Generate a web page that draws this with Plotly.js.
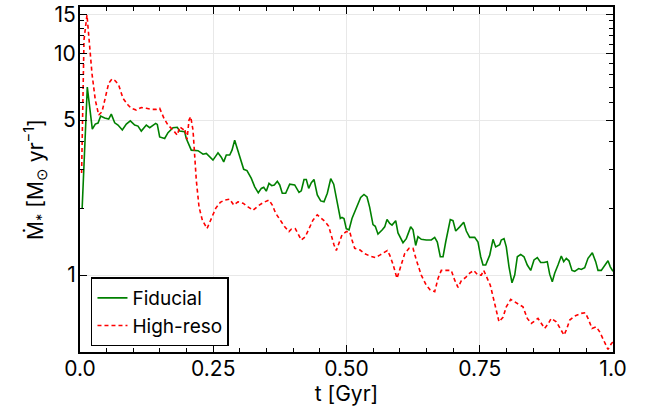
<!DOCTYPE html>
<html>
<head>
<meta charset="utf-8">
<script src="https://cdn.plot.ly/plotly-3.0.1.min.js"></script>
<style>html,body{margin:0;padding:0;background:#fff;}#chart{width:653px;height:408px;}</style>
</head>
<body>
<div id="chart"></div>
<script>
// Fiducial run: time [Gyr] and star formation rate [Msun/yr]
const fidT = [
0.004,0.0137,0.0231,0.0287,0.0338,0.0388,0.0463,0.0538,0.0587,0.0651,
0.0713,0.0794,0.0869,0.0944,0.1026,0.1088,0.115,0.1244,0.1308,0.142,
0.145,0.1495,0.1589,0.1651,0.1745,0.1825,0.1871,0.1964,0.1994,0.2088,
0.2214,0.2308,0.237,0.242,0.2495,0.2589,0.2651,0.2696,0.2745,0.2809,
0.2852,0.2902,0.2964,0.3008,0.3071,0.3133,0.3214,0.3278,0.3345,0.3402,
0.3447,0.3495,0.3546,0.3597,0.3645,0.3702,0.3747,0.3795,0.3859,0.3934,
0.4028,0.4109,0.4152,0.4203,0.4246,0.4291,0.434,0.439,0.4452,0.4516,
0.4578,0.464,0.4704,0.476,0.4827,0.4884,0.4916,0.4953,0.4996,0.5047,
0.5103,0.5184,0.5266,0.5328,0.5385,0.5435,0.5497,0.554,0.5591,0.5672,
0.5717,0.576,0.5811,0.5854,0.5923,0.5966,0.606,0.6122,0.6204,0.6248,
0.6298,0.6341,0.6403,0.6497,0.6591,0.6655,0.6704,0.676,0.6811,0.6861,
0.6904,0.6947,0.6998,0.7049,0.7124,0.7199,0.7248,0.7311,0.7405,0.7467,
0.7518,0.7561,0.7612,0.7687,0.7749,0.7799,0.7874,0.7904,0.7955,0.7998,
0.8049,0.8105,0.8156,0.8205,0.8268,0.833,0.8392,0.8456,0.8518,0.858,
0.8643,0.8705,0.8767,0.8812,0.8861,0.8906,0.8968,0.903,0.9075,0.9124,
0.9174,0.9231,0.9281,0.9356,0.9405,0.9469,0.9531,0.9612,0.9675,0.9719,
0.978,0.9844,0.9906,0.9949,1.0];
const fidM = [
1.99,7.04,4.55,4.80,4.85,5.21,5.11,5.05,5.32,4.86,
4.75,4.51,4.80,4.96,4.75,4.70,4.46,4.75,4.62,4.83,
4.78,4.20,4.13,4.39,4.62,4.64,4.46,4.43,4.13,3.66,
3.64,3.51,3.54,3.44,3.30,3.56,3.40,3.24,3.48,3.48,
3.66,4.06,3.66,3.36,3.00,2.96,2.73,2.50,2.35,2.46,
2.49,2.39,2.59,2.53,2.55,2.65,2.55,2.34,2.34,2.57,
2.55,2.36,2.40,2.70,2.70,2.46,2.61,2.70,2.30,2.16,
2.14,2.34,2.72,2.57,2.12,1.80,1.82,1.80,1.62,1.60,
1.80,2.02,2.24,2.31,2.25,2.02,1.69,1.66,1.53,1.60,
1.65,1.78,1.71,1.68,1.76,1.55,1.40,1.46,1.65,1.60,
1.36,1.49,1.45,1.44,1.44,1.48,1.41,1.21,1.21,1.41,
1.57,1.78,1.76,1.58,1.65,1.73,1.58,1.48,1.48,1.41,
1.21,1.11,1.11,1.23,1.45,1.34,1.37,1.44,1.46,1.34,
1.09,0.923,1.0,1.21,1.24,1.21,1.11,1.05,1.17,1.20,
1.14,1.14,1.15,1.01,0.933,1.02,1.11,1.22,1.15,1.19,
1.16,1.05,1.04,1.07,1.06,1.08,1.19,1.26,1.15,1.05,
1.05,1.10,1.16,1.09,1.04];

// High-resolution run
const hrT = [
0.003,0.0075,0.0131,0.0182,0.0225,0.0287,0.0351,0.0413,0.0475,0.0538,
0.06,0.0662,0.0726,0.0807,0.0901,0.0962,0.1056,0.115,0.1244,0.1351,
0.1432,0.1495,0.1576,0.1651,0.1745,0.1825,0.1871,0.1932,0.1964,0.2008,
0.2045,0.2077,0.212,0.2152,0.2182,0.2233,0.2295,0.2383,0.2463,0.2546,
0.2632,0.2715,0.2809,0.2884,0.2964,0.3058,0.3152,0.3246,0.334,0.3433,
0.3546,0.3608,0.3672,0.3747,0.3841,0.3921,0.3964,0.4039,0.409,0.4152,
0.4227,0.4291,0.4371,0.4452,0.4527,0.4602,0.4666,0.4715,0.4765,0.4809,
0.4854,0.4916,0.4996,0.506,0.5103,0.5154,0.5248,0.5341,0.5435,0.554,
0.5623,0.5704,0.5765,0.5811,0.5872,0.5947,0.6009,0.6092,0.6173,0.6248,
0.631,0.6403,0.6497,0.6572,0.6655,0.6717,0.6779,0.6872,0.6966,0.703,
0.7092,0.7154,0.7236,0.7311,0.7386,0.7467,0.7529,0.7574,0.7636,0.7698,
0.7749,0.7811,0.7861,0.7936,0.7998,0.8081,0.8156,0.825,0.8311,0.8392,
0.8467,0.8593,0.8655,0.8718,0.878,0.8842,0.8936,0.9,0.9081,0.9124,
0.9188,0.9281,0.9405,0.948,0.9531,0.9606,0.9687,0.975,0.9831,0.9906,
0.9968,1.0];
const hrM = [
2.89,11.5,14.9,10.7,8.1,6.16,5.27,5.45,6.27,7.33,
7.66,7.52,7.19,6.27,5.85,5.65,5.55,5.70,5.65,5.59,
5.59,5.65,5.09,4.75,4.51,4.28,4.66,4.54,4.59,4.09,
5.0,5.18,4.51,3.54,2.68,2.03,1.77,1.62,1.80,2.0,
2.13,2.18,2.20,2.07,2.14,2.11,2.03,1.96,2.05,2.12,
2.18,2.07,1.90,1.78,1.65,1.57,1.61,1.62,1.54,1.44,
1.49,1.62,1.77,1.87,1.80,1.74,1.66,1.49,1.37,1.29,
1.39,1.52,1.57,1.57,1.44,1.32,1.30,1.25,1.22,1.20,
1.23,1.27,1.29,1.23,1.12,0.966,1.09,1.25,1.32,1.32,
1.17,1.0,0.90,0.856,0.842,0.966,1.05,1.05,1.05,0.949,
0.88,0.943,0.976,1.02,1.05,1.0,1.0,1.05,0.98,0.90,
0.80,0.695,0.616,0.645,0.719,0.777,0.758,0.740,0.719,0.638,
0.605,0.638,0.605,0.575,0.601,0.638,0.616,0.575,0.536,0.565,
0.627,0.653,0.672,0.676,0.638,0.575,0.584,0.555,0.509,0.462,
0.49,0.50];

const xTickVals = [0, 0.25, 0.5, 0.75, 1.0];
const xTickText = ["0.0", "0.25", "0.50", "0.75", "1.0"];
const xMinorVals = [0.05,0.1,0.15,0.2,0.3,0.35,0.4,0.45,0.55,0.6,0.65,0.7,0.8,0.85,0.9,0.95];
const yTickVals = [1, 5, 10, 15];
const yTickText = ["1", "5", "10", "15"];
const yMinorVals = [2,3,4,6,7,8,9,11,12,13,14];

const FONT = "Inter, Liberation Sans, Arial, sans-serif";
const FS = 21;

const traces = [
  {x: fidT, y: fidM, type: "scatter", mode: "lines", name: "Fiducial",
   line: {color: "#008000", width: 1.6}},
  {x: hrT, y: hrM, type: "scatter", mode: "lines", name: "High-reso",
   line: {color: "#ff0000", width: 1.6, dash: "4px,3px"}}
];

const layout = {
  width: 653, height: 408,
  margin: {l: 80, r: 40, t: 7, b: 56},
  paper_bgcolor: "#ffffff", plot_bgcolor: "#ffffff",
  font: {family: FONT, size: FS, color: "#000"},
  showlegend: true,
  legend: {x: 0.0206, y: 0.016, xanchor: "left", yanchor: "bottom",
    bgcolor: "#ffffff", bordercolor: "#000", borderwidth: 1.5,
    font: {family: FONT, size: 19, color: "#000"}, tracegroupgap: 0},
  xaxis: {
    range: [0, 1], tickmode: "array", tickvals: xTickVals, ticktext: xTickText,
    ticks: "inside", ticklen: 7, tickwidth: 1.2, tickcolor: "#000",
    showline: true, linecolor: "#000", linewidth: 2, mirror: "ticks",
    showgrid: true, gridcolor: "#e8e8e8", gridwidth: 1, zeroline: false,
    ticklabelstandoff: -3,
    minor: {tickmode: "array", tickvals: xMinorVals, ticks: "inside", ticklen: 4, tickwidth: 1, tickcolor: "#000", showgrid: false},
    title: {text: "t [Gyr]", font: {family: FONT, size: FS, color: "#000"}, standoff: 0},
    tickfont: {family: FONT, size: FS, color: "#000"}
  },
  yaxis: {
    type: "log", range: [Math.log10(0.45), Math.log10(16.18)],
    tickmode: "array", tickvals: yTickVals, ticktext: yTickText,
    ticks: "inside", ticklen: 7, tickwidth: 1.2, tickcolor: "#000",
    showline: true, linecolor: "#000", linewidth: 2, mirror: "ticks",
    showgrid: true, gridcolor: "#e8e8e8", gridwidth: 1, zeroline: false,
    ticklabelstandoff: -2,
    minor: {tickmode: "array", tickvals: yMinorVals, ticks: "inside", ticklen: 4, tickwidth: 1, tickcolor: "#000", showgrid: false},
    title: {text: "Ṁ<sub>*</sub> [M<sub>⊙</sub> yr<sup>−1</sup>]", font: {family: FONT, size: FS, color: "#000"}, standoff: 5},
    tickfont: {family: FONT, size: FS, color: "#000"}
  }
};

Plotly.newPlot("chart", traces, layout, {displayModeBar: false, staticPlot: true});
</script>
</body>
</html>
